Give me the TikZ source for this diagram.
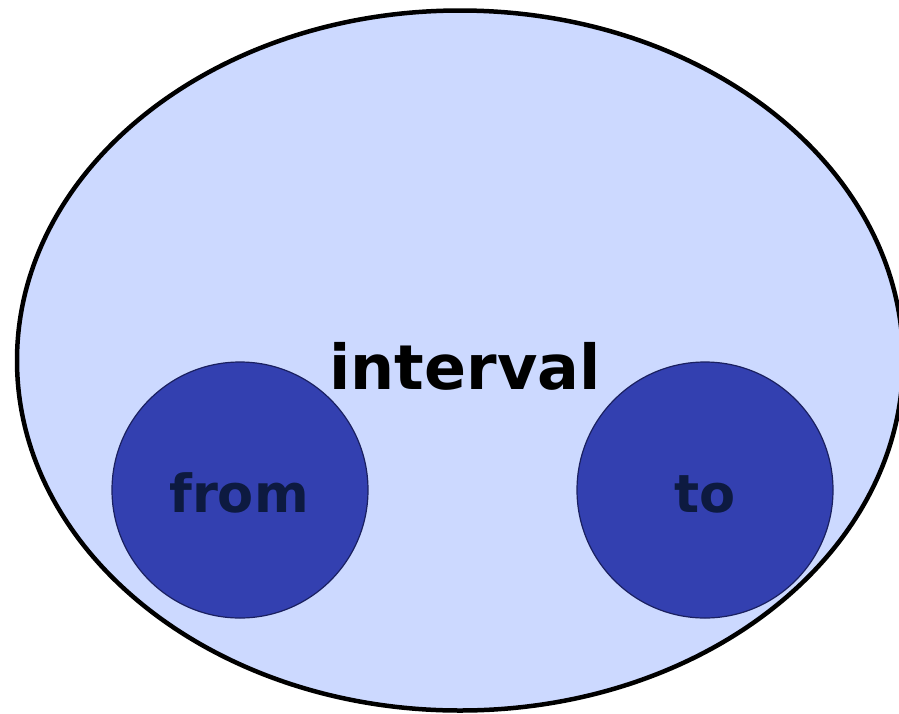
\documentclass[tikz,border=0pt]{standalone}
\usepackage{fontspec}
\setmainfont{DejaVu Sans}
\definecolor{outerfill}{HTML}{CCD9FF}
\definecolor{innerfill}{HTML}{3340B0}
\definecolor{innerline}{HTML}{1A2060}
\definecolor{innertext}{HTML}{0D1A40}
\tikzset{
  outerset/.style={draw=black, line width=4.5pt, fill=outerfill},
  innerset/.style={circle, draw=innerline, line width=1.2pt, fill=innerfill, minimum size=256pt, inner sep=0pt},
  biglabel/.style={font=\bfseries\fontsize{62}{70}\selectfont, text=black, inner sep=0pt, anchor=base},
  smalllabel/.style={font=\bfseries\fontsize{52.5}{60}\selectfont, text=innertext, inner sep=0pt, anchor=base}
}
\begin{document}
\begin{tikzpicture}[x=1pt,y=-1pt]
\useasboundingbox (0,0) rectangle (899,713);
\begin{scope}
\clip (0,0) rectangle (899,713);
\draw[outerset] (460,360.5) ellipse [x radius=443, y radius=350];
\end{scope}
\node[innerset] (from) at (240,490) {};
\node[innerset] (to) at (705,490) {};
\node[biglabel] (interval) at (465,389) {interval};
\node[smalllabel] (fromlabel) at (239,512) {from};
\node[smalllabel] (tolabel) at (705,512) {to};
\end{tikzpicture}
\end{document}
